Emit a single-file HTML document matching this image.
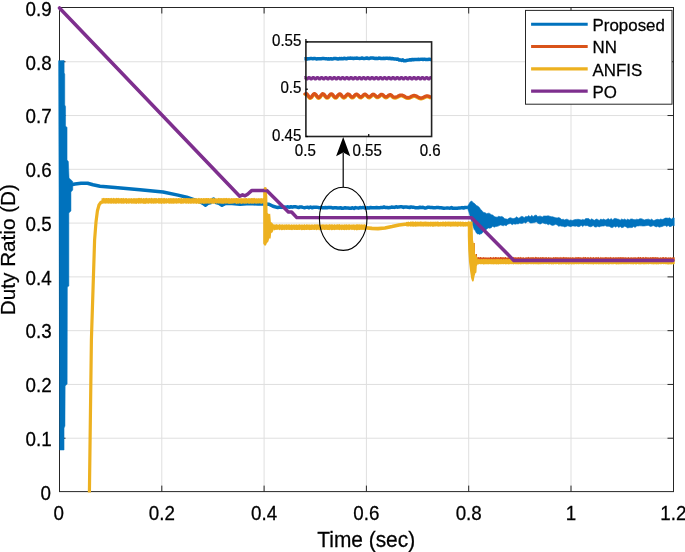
<!DOCTYPE html>
<html><head><meta charset="utf-8"><title>Duty Ratio</title>
<style>
html,body{margin:0;padding:0;background:#fff;}
body{width:685px;height:552px;overflow:hidden;font-family:"Liberation Sans",sans-serif;}
svg{display:block;will-change:transform;opacity:0.999;}
svg text{font-family:"Liberation Sans",sans-serif;fill:#000;}
</style></head><body>
<svg width="685" height="552" viewBox="0 0 685 552">
<rect width="685" height="552" fill="#fff"/>
<line x1="161.80" y1="7.5" x2="161.80" y2="491.6" stroke="#DFDFDF" stroke-width="1"/>
<line x1="264.10" y1="7.5" x2="264.10" y2="491.6" stroke="#DFDFDF" stroke-width="1"/>
<line x1="366.40" y1="7.5" x2="366.40" y2="491.6" stroke="#DFDFDF" stroke-width="1"/>
<line x1="468.70" y1="7.5" x2="468.70" y2="491.6" stroke="#DFDFDF" stroke-width="1"/>
<line x1="571.00" y1="7.5" x2="571.00" y2="491.6" stroke="#DFDFDF" stroke-width="1"/>
<line x1="59.5" y1="438.22" x2="673.5" y2="438.22" stroke="#DFDFDF" stroke-width="1"/>
<line x1="59.5" y1="384.44" x2="673.5" y2="384.44" stroke="#DFDFDF" stroke-width="1"/>
<line x1="59.5" y1="330.66" x2="673.5" y2="330.66" stroke="#DFDFDF" stroke-width="1"/>
<line x1="59.5" y1="276.88" x2="673.5" y2="276.88" stroke="#DFDFDF" stroke-width="1"/>
<line x1="59.5" y1="223.10" x2="673.5" y2="223.10" stroke="#DFDFDF" stroke-width="1"/>
<line x1="59.5" y1="169.32" x2="673.5" y2="169.32" stroke="#DFDFDF" stroke-width="1"/>
<line x1="59.5" y1="115.54" x2="673.5" y2="115.54" stroke="#DFDFDF" stroke-width="1"/>
<line x1="59.5" y1="61.76" x2="673.5" y2="61.76" stroke="#DFDFDF" stroke-width="1"/>
<rect x="59.5" y="7.5" width="614.0" height="484.1" fill="none" stroke="#262626" stroke-width="1"/>
<line x1="161.80" y1="491.6" x2="161.80" y2="485.6" stroke="#262626" stroke-width="1"/>
<line x1="161.80" y1="7.5" x2="161.80" y2="13.5" stroke="#262626" stroke-width="1"/>
<line x1="264.10" y1="491.6" x2="264.10" y2="485.6" stroke="#262626" stroke-width="1"/>
<line x1="264.10" y1="7.5" x2="264.10" y2="13.5" stroke="#262626" stroke-width="1"/>
<line x1="366.40" y1="491.6" x2="366.40" y2="485.6" stroke="#262626" stroke-width="1"/>
<line x1="366.40" y1="7.5" x2="366.40" y2="13.5" stroke="#262626" stroke-width="1"/>
<line x1="468.70" y1="491.6" x2="468.70" y2="485.6" stroke="#262626" stroke-width="1"/>
<line x1="468.70" y1="7.5" x2="468.70" y2="13.5" stroke="#262626" stroke-width="1"/>
<line x1="571.00" y1="491.6" x2="571.00" y2="485.6" stroke="#262626" stroke-width="1"/>
<line x1="571.00" y1="7.5" x2="571.00" y2="13.5" stroke="#262626" stroke-width="1"/>
<line x1="59.5" y1="438.22" x2="65.5" y2="438.22" stroke="#262626" stroke-width="1"/>
<line x1="673.5" y1="438.22" x2="667.5" y2="438.22" stroke="#262626" stroke-width="1"/>
<line x1="59.5" y1="384.44" x2="65.5" y2="384.44" stroke="#262626" stroke-width="1"/>
<line x1="673.5" y1="384.44" x2="667.5" y2="384.44" stroke="#262626" stroke-width="1"/>
<line x1="59.5" y1="330.66" x2="65.5" y2="330.66" stroke="#262626" stroke-width="1"/>
<line x1="673.5" y1="330.66" x2="667.5" y2="330.66" stroke="#262626" stroke-width="1"/>
<line x1="59.5" y1="276.88" x2="65.5" y2="276.88" stroke="#262626" stroke-width="1"/>
<line x1="673.5" y1="276.88" x2="667.5" y2="276.88" stroke="#262626" stroke-width="1"/>
<line x1="59.5" y1="223.10" x2="65.5" y2="223.10" stroke="#262626" stroke-width="1"/>
<line x1="673.5" y1="223.10" x2="667.5" y2="223.10" stroke="#262626" stroke-width="1"/>
<line x1="59.5" y1="169.32" x2="65.5" y2="169.32" stroke="#262626" stroke-width="1"/>
<line x1="673.5" y1="169.32" x2="667.5" y2="169.32" stroke="#262626" stroke-width="1"/>
<line x1="59.5" y1="115.54" x2="65.5" y2="115.54" stroke="#262626" stroke-width="1"/>
<line x1="673.5" y1="115.54" x2="667.5" y2="115.54" stroke="#262626" stroke-width="1"/>
<line x1="59.5" y1="61.76" x2="65.5" y2="61.76" stroke="#262626" stroke-width="1"/>
<line x1="673.5" y1="61.76" x2="667.5" y2="61.76" stroke="#262626" stroke-width="1"/>
<path d="M58.60,60.70 L64.15,60.50 L64.15,73.00 L64.75,74.00 L64.75,105.00 L65.55,106.50 L65.55,126.00 L67.05,127.50 L67.05,160.00 L68.35,161.50 L69.05,178.00 L72.75,181.50 L72.75,190.00 L70.95,192.00 L70.95,211.00 L68.85,213.00 L68.85,286.00 L67.35,287.00 L67.15,384.00 L65.15,386.00 L64.95,426.00 L64.05,428.00 L64.05,450.00 L59.80,450.00 Z" fill="#0072BD" stroke="#0072BD" stroke-width="0.5" stroke-linejoin="round"/>
<path d="M71.00,184.80 L75.00,184.00 L81.00,183.30 L87.60,183.20 L93.00,184.80 L100.00,186.30 L115.00,187.60 L140.00,189.80 L163.00,192.00 L178.00,195.10 L186.70,197.20 L194.60,200.00 L200.00,201.80 L203.00,203.40 L205.60,205.20 L208.00,203.20 L211.00,202.60 L213.50,199.00 L216.00,202.60 L219.00,203.20 L222.00,205.20 L225.00,203.60 L232.00,203.60 L240.00,204.20 L250.00,203.60 L258.00,204.00 L264.00,204.00 L269.00,204.20 L273.00,206.20 L277.80,207.60 L279.00,207.18 L280.50,207.00 L282.00,207.43 L283.50,206.89 L285.00,207.28 L286.50,207.11 L288.00,206.82 L289.50,207.22 L291.00,206.79 L292.50,207.14 L294.00,206.81 L295.50,206.83 L297.00,207.14 L298.50,207.51 L300.00,206.89 L301.50,206.99 L303.00,207.37 L304.50,207.68 L306.00,207.37 L307.50,207.23 L309.00,207.78 L310.50,206.97 L312.00,207.73 L313.50,207.25 L315.00,207.15 L316.50,207.16 L318.00,207.37 L319.50,207.86 L321.00,207.33 L322.50,207.72 L324.00,207.81 L325.50,207.60 L327.00,207.79 L328.50,207.39 L330.00,207.42 L331.50,207.58 L333.00,208.03 L334.50,207.83 L336.00,207.75 L337.50,208.01 L339.00,207.91 L340.50,207.79 L342.00,208.25 L343.50,208.17 L345.00,207.77 L346.50,208.07 L348.00,208.02 L349.50,208.33 L351.00,208.20 L352.50,207.79 L354.00,208.40 L355.50,207.61 L357.00,207.86 L358.50,208.15 L360.00,207.58 L361.50,207.86 L363.00,207.42 L364.50,207.96 L366.00,208.02 L367.50,207.81 L369.00,208.05 L370.50,207.51 L372.00,207.82 L373.50,207.69 L375.00,207.64 L376.50,207.50 L378.00,207.81 L379.50,207.87 L381.00,207.41 L382.50,207.55 L384.00,206.98 L385.50,207.53 L387.00,207.45 L388.50,207.74 L390.00,207.56 L391.50,207.06 L393.00,207.14 L394.50,207.38 L396.00,206.78 L397.50,207.17 L399.00,206.90 L400.50,206.86 L402.00,206.80 L403.50,207.45 L405.00,206.88 L406.50,207.00 L408.00,207.14 L409.50,207.59 L411.00,206.90 L412.50,207.25 L414.00,207.36 L415.50,207.69 L417.00,207.66 L418.50,207.73 L420.00,207.23 L421.50,207.39 L423.00,207.37 L424.50,207.88 L426.00,207.98 L427.50,207.29 L429.00,207.35 L430.50,207.43 L432.00,207.47 L433.50,207.73 L435.00,207.86 L436.50,207.59 L438.00,207.39 L439.50,207.79 L441.00,207.77 L442.50,207.97 L444.00,208.34 L445.50,208.12 L447.00,207.98 L448.50,208.09 L450.00,208.15 L451.50,207.59 L453.00,208.36 L454.50,208.25 L456.00,208.33 L457.50,208.26 L459.00,207.89 L460.50,207.88 L462.00,207.60 L463.50,208.06 L465.00,207.52 L466.50,207.51" fill="none" stroke="#0072BD" stroke-width="3.5" stroke-linejoin="round" stroke-linecap="round"/>
<path d="M467.60,206.11 L468.70,204.47 L469.80,202.52 L470.90,201.30 L472.00,201.16 L473.10,202.72 L474.20,203.30 L475.30,204.23 L476.40,205.53 L477.50,205.97 L478.60,206.69 L479.70,208.04 L480.80,209.84 L481.90,210.46 L483.00,212.18 L484.10,212.48 L485.20,212.77 L486.70,213.82 L488.20,213.15 L489.70,213.45 L491.20,214.67 L492.70,214.91 L494.20,216.46 L495.70,216.99 L497.20,217.18 L498.70,216.32 L500.20,216.82 L501.70,216.45 L503.20,217.15 L504.70,218.73 L506.20,218.95 L507.70,219.24 L509.20,218.04 L510.70,217.79 L512.20,218.40 L513.70,218.61 L515.20,218.05 L516.70,216.76 L518.20,218.14 L519.70,217.68 L521.20,216.44 L522.70,216.58 L524.20,217.64 L525.70,216.40 L527.20,216.87 L528.70,215.57 L530.20,216.90 L531.70,215.30 L533.20,216.73 L534.70,215.38 L536.20,215.01 L537.70,216.80 L539.20,216.15 L540.70,216.17 L542.20,217.11 L543.70,216.03 L545.20,216.01 L546.70,216.04 L548.20,215.80 L549.70,216.22 L551.20,216.68 L552.70,216.76 L554.20,217.30 L555.70,217.73 L557.20,217.95 L558.70,217.50 L560.20,218.19 L561.70,219.60 L563.20,219.21 L564.70,220.01 L566.20,219.21 L567.70,219.43 L569.20,220.38 L570.70,219.93 L572.20,220.54 L573.70,219.92 L575.20,219.62 L576.70,219.38 L578.20,219.31 L579.70,219.60 L581.20,220.07 L582.70,219.38 L584.20,219.95 L585.70,218.62 L587.20,218.57 L588.70,218.61 L590.20,219.99 L591.70,218.84 L593.20,219.83 L594.70,220.29 L596.20,219.07 L597.70,219.45 L599.20,220.61 L600.70,219.04 L602.20,219.67 L603.70,219.02 L605.20,219.98 L606.70,219.62 L608.20,218.57 L609.70,219.68 L611.20,218.57 L612.70,219.91 L614.20,218.57 L615.70,218.46 L617.20,218.97 L618.70,219.32 L620.20,220.15 L621.70,218.94 L623.20,219.81 L624.70,218.97 L626.20,220.17 L627.70,219.07 L629.20,220.12 L630.70,219.02 L632.20,218.94 L633.70,219.62 L635.20,219.76 L636.70,219.17 L638.20,219.61 L639.70,218.77 L641.20,218.66 L642.70,219.18 L644.20,220.05 L645.70,219.58 L647.20,219.31 L648.70,219.14 L650.20,220.08 L651.70,219.07 L653.20,220.50 L654.70,220.30 L656.20,219.60 L657.70,219.30 L659.20,219.75 L660.70,218.99 L662.20,219.57 L663.70,218.89 L665.20,218.11 L666.70,218.04 L668.20,218.29 L669.70,217.86 L671.20,219.26 L672.70,218.04 L674.20,217.96 L674.20,225.84 L672.70,225.46 L671.20,226.31 L669.70,226.67 L668.20,225.41 L666.70,226.54 L665.20,225.41 L663.70,225.85 L662.20,226.43 L660.70,226.83 L659.20,227.14 L657.70,226.26 L656.20,226.91 L654.70,226.17 L653.20,225.56 L651.70,226.27 L650.20,226.43 L648.70,225.42 L647.20,225.44 L645.70,225.75 L644.20,225.97 L642.70,226.01 L641.20,225.83 L639.70,225.77 L638.20,226.01 L636.70,225.89 L635.20,227.49 L633.70,226.46 L632.20,227.54 L630.70,227.62 L629.20,227.60 L627.70,227.92 L626.20,226.90 L624.70,226.16 L623.20,227.33 L621.70,227.70 L620.20,226.40 L618.70,227.60 L617.20,226.06 L615.70,227.25 L614.20,226.23 L612.70,227.53 L611.20,227.52 L609.70,226.58 L608.20,226.20 L606.70,226.37 L605.20,225.53 L603.70,226.05 L602.20,226.05 L600.70,226.19 L599.20,226.91 L597.70,226.21 L596.20,227.05 L594.70,227.03 L593.20,225.42 L591.70,226.46 L590.20,226.76 L588.70,226.28 L587.20,225.42 L585.70,225.76 L584.20,225.14 L582.70,226.62 L581.20,225.28 L579.70,226.43 L578.20,226.63 L576.70,225.93 L575.20,226.30 L573.70,226.02 L572.20,225.97 L570.70,226.64 L569.20,226.23 L567.70,225.86 L566.20,226.46 L564.70,226.90 L563.20,226.24 L561.70,226.17 L560.20,225.86 L558.70,226.33 L557.20,224.92 L555.70,224.31 L554.20,224.98 L552.70,225.41 L551.20,225.09 L549.70,224.08 L548.20,224.78 L546.70,223.70 L545.20,223.86 L543.70,223.15 L542.20,222.84 L540.70,223.90 L539.20,223.83 L537.70,223.09 L536.20,221.69 L534.70,222.57 L533.20,222.73 L531.70,223.00 L530.20,222.91 L528.70,221.61 L527.20,221.59 L525.70,223.17 L524.20,222.33 L522.70,223.30 L521.20,223.49 L519.70,223.10 L518.20,223.88 L516.70,223.82 L515.20,224.24 L513.70,223.78 L512.20,224.73 L510.70,223.56 L509.20,223.76 L507.70,224.30 L506.20,225.79 L504.70,225.06 L503.20,225.83 L501.70,225.29 L500.20,224.88 L498.70,225.87 L497.20,226.36 L495.70,226.55 L494.20,227.18 L492.70,226.22 L491.20,227.77 L489.70,228.21 L488.20,227.89 L486.70,228.95 L485.20,230.71 L484.10,230.43 L483.00,231.65 L481.90,233.52 L480.80,233.79 L479.70,234.43 L478.60,233.88 L477.50,233.88 L476.40,233.01 L475.30,230.76 L474.20,229.60 L473.10,226.14 L472.00,223.18 L470.90,218.96 L469.80,215.01 L468.70,211.57 L467.60,208.56 Z" fill="#0072BD" stroke="#0072BD" stroke-width="0.6" stroke-linejoin="round"/>
<path d="M474.2,243 L474.6,262 M476.4,254 L476.6,262" fill="none" stroke="#D95319" stroke-width="1.2"/>
<path d="M89.40,492.50 L91.40,340.00 L94.60,240.00 L96.00,222.00 L97.40,211.00 L99.00,205.00 L101.00,202.20 L103.30,201.40" fill="none" stroke="#EDB120" stroke-width="3.2" stroke-linejoin="round"/>
<path d="M474.00,257.39 L474.62,257.77 L475.25,257.30 L475.88,257.38 L476.50,257.33 L477.12,257.42 L477.75,257.28 L478.38,257.10 L479.00,257.28 L479.62,257.43 L480.25,256.99 L480.88,256.94 L481.50,257.44 L482.12,257.58 L482.75,257.50 L483.38,257.00 L484.00,257.21 L484.62,257.58 L485.25,257.48 L485.88,257.18 L486.50,257.61 L487.12,257.50 L487.75,257.48 L488.38,257.30 L489.00,257.65 L489.62,257.61 L490.25,256.99 L490.88,257.02 L491.50,257.62 L492.12,257.57 L492.75,257.38 L493.38,256.80 L494.00,257.57 L494.62,257.51 L495.25,257.01 L495.88,256.95 L496.50,257.28 L497.12,257.31 L497.75,257.56 L498.38,257.03 L499.00,257.53 L499.62,257.56 L500.25,257.02 L500.88,256.95 L501.50,257.30 L502.12,257.20 L502.75,257.14 L503.38,257.22 L504.00,257.29 L504.62,257.47 L505.25,257.05 L505.88,256.92 L506.50,257.68 L507.12,257.47 L507.75,257.56 L508.38,256.96 L509.00,257.69 L509.62,257.54 L510.25,257.29 L510.88,256.88 L511.50,257.42 L512.12,257.61 L512.75,257.51 L513.38,256.82 L514.00,257.41 L514.62,257.37 L515.25,257.18 L515.88,257.31 L516.50,257.57 L517.12,257.26 L517.75,257.40 L518.38,256.98 L519.00,257.35 L519.62,257.54 L520.25,257.23 L520.88,256.83 L521.50,257.62 L522.12,257.75 L522.75,257.13 L523.38,256.92 L524.00,257.69 L524.62,257.68 L525.25,257.52 L525.88,257.13 L526.50,257.15 L527.12,257.46 L527.75,257.36 L528.38,256.83 L529.00,257.19 L529.62,257.40 L530.25,257.42 L530.88,256.96 L531.50,257.30 L532.12,257.43 L532.75,257.07 L533.38,257.34 L534.00,257.25 L534.62,257.79 L535.25,257.06 L535.88,256.86 L536.50,257.17 L537.12,257.34 L537.75,257.51 L538.38,257.05 L539.00,257.43 L539.62,257.39 L540.25,257.14 L540.88,256.88 L541.50,257.50 L542.12,257.32 L542.75,257.12 L543.38,257.07 L544.00,257.63 L544.62,257.20 L545.25,257.40 L545.88,257.09 L546.50,257.12 L547.12,257.75 L547.75,257.49 L548.38,256.95 L549.00,257.21 L549.62,257.60 L550.25,257.41 L550.88,257.26 L551.50,257.45 L552.12,257.66 L552.75,257.53 L553.38,256.98 L554.00,257.27 L554.62,257.61 L555.25,257.02 L555.88,257.15 L556.50,257.25 L557.12,257.20 L557.75,257.25 L558.38,257.19 L559.00,257.40 L559.62,257.34 L560.25,257.40 L560.88,256.81 L561.50,257.52 L562.12,257.34 L562.75,257.53 L563.38,256.82 L564.00,257.37 L564.62,257.31 L565.25,257.42 L565.88,256.92 L566.50,257.30 L567.12,257.33 L567.75,257.43 L568.38,257.37 L569.00,257.23 L569.62,257.44 L570.25,257.54 L570.88,257.04 L571.50,257.70 L572.12,257.22 L572.75,257.21 L573.38,257.33 L574.00,257.72 L574.62,257.39 L575.25,257.54 L575.88,256.82 L576.50,257.34 L577.12,257.39 L577.75,256.98 L578.38,257.01 L579.00,257.19 L579.62,257.31 L580.25,257.47 L580.88,257.06 L581.50,257.40 L582.12,257.74 L582.75,257.19 L583.38,256.82 L584.00,257.60 L584.62,257.21 L585.25,257.01 L585.88,256.96 L586.50,257.66 L587.12,257.35 L587.75,257.34 L588.38,257.23 L589.00,257.28 L589.62,257.64 L590.25,257.36 L590.88,256.82 L591.50,257.40 L592.12,257.76 L592.75,257.13 L593.38,257.10 L594.00,257.23 L594.62,257.63 L595.25,257.44 L595.88,257.00 L596.50,257.33 L597.12,257.24 L597.75,257.43 L598.38,256.84 L599.00,257.45 L599.62,257.78 L600.25,257.57 L600.88,256.85 L601.50,257.42 L602.12,257.46 L602.75,257.22 L603.38,257.21 L604.00,257.63 L604.62,257.26 L605.25,257.15 L605.88,257.03 L606.50,257.24 L607.12,257.34 L607.75,257.51 L608.38,257.00 L609.00,257.71 L609.62,257.33 L610.25,257.37 L610.88,256.86 L611.50,257.61 L612.12,257.74 L612.75,257.15 L613.38,256.91 L614.00,257.47 L614.62,257.41 L615.25,257.24 L615.88,257.27 L616.50,257.18 L617.12,257.56 L617.75,257.20 L618.38,256.92 L619.00,257.48 L619.62,257.31 L620.25,257.17 L620.88,256.91 L621.50,257.24 L622.12,257.52 L622.75,257.04 L623.38,257.13 L624.00,257.17 L624.62,257.61 L625.25,257.14 L625.88,257.37 L626.50,257.46 L627.12,257.44 L627.75,257.57 L628.38,256.92 L629.00,257.24 L629.62,257.73 L630.25,257.47 L630.88,257.33 L631.50,257.22 L632.12,257.52 L632.75,257.52 L633.38,257.17 L634.00,257.42 L634.62,257.36 L635.25,257.53 L635.88,257.10 L636.50,257.70 L637.12,257.27 L637.75,257.56 L638.38,256.83 L639.00,257.35 L639.62,257.56 L640.25,257.07 L640.88,256.93 L641.50,257.63 L642.12,257.30 L642.75,257.21 L643.38,257.03 L644.00,257.27 L644.62,257.73 L645.25,257.31 L645.88,256.82 L646.50,257.19 L647.12,257.52 L647.75,257.16 L648.38,257.15 L649.00,257.51 L649.62,257.45 L650.25,257.35 L650.88,256.94 L651.50,257.59 L652.12,257.30 L652.75,257.04 L653.38,257.06 L654.00,257.38 L654.62,257.21 L655.25,257.02 L655.88,257.27 L656.50,257.15 L657.12,257.42 L657.75,257.06 L658.38,257.40 L659.00,257.61 L659.62,257.78 L660.25,257.55 L660.88,256.90 L661.50,257.68 L662.12,257.40 L662.75,257.07 L663.38,256.97 L664.00,257.20 L664.62,257.74 L665.25,257.13 L665.88,256.99 L666.50,257.23 L667.12,257.75 L667.75,257.51 L668.38,257.27 L669.00,257.44 L669.62,257.41 L670.25,257.31 L670.88,257.33 L671.50,257.71 L672.12,257.43 L672.75,257.13 L673.38,257.15 L674.00,257.58 L674.62,257.30 L674.70,257.00 L674.70,260.80 L674.62,260.46 L674.00,260.35 L673.38,260.61 L672.75,260.82 L672.12,260.49 L671.50,260.46 L670.88,260.46 L670.25,260.57 L669.62,260.53 L669.00,260.46 L668.38,260.47 L667.75,260.33 L667.12,260.42 L666.50,260.18 L665.88,260.42 L665.25,260.53 L664.62,260.14 L664.00,260.38 L663.38,260.89 L662.75,260.76 L662.12,260.46 L661.50,260.12 L660.88,260.87 L660.25,260.77 L659.62,260.31 L659.00,260.20 L658.38,260.84 L657.75,260.74 L657.12,260.58 L656.50,260.38 L655.88,260.71 L655.25,260.67 L654.62,260.39 L654.00,260.39 L653.38,260.45 L652.75,260.30 L652.12,260.29 L651.50,260.36 L650.88,260.86 L650.25,260.52 L649.62,260.02 L649.00,260.35 L648.38,260.65 L647.75,260.48 L647.12,260.39 L646.50,260.44 L645.88,260.90 L645.25,260.68 L644.62,260.04 L644.00,260.52 L643.38,260.47 L642.75,260.54 L642.12,260.14 L641.50,260.58 L640.88,260.64 L640.25,260.70 L639.62,260.51 L639.00,260.62 L638.38,260.95 L637.75,260.52 L637.12,260.58 L636.50,260.20 L635.88,260.88 L635.25,260.29 L634.62,260.32 L634.00,260.17 L633.38,260.62 L632.75,260.28 L632.12,260.39 L631.50,260.09 L630.88,260.68 L630.25,260.47 L629.62,260.26 L629.00,260.09 L628.38,260.84 L627.75,260.44 L627.12,260.53 L626.50,260.30 L625.88,260.59 L625.25,260.41 L624.62,260.26 L624.00,260.18 L623.38,260.78 L622.75,260.46 L622.12,260.05 L621.50,260.56 L620.88,260.59 L620.25,260.63 L619.62,260.02 L619.00,260.47 L618.38,260.55 L617.75,260.31 L617.12,260.14 L616.50,260.44 L615.88,260.97 L615.25,260.38 L614.62,260.53 L614.00,260.64 L613.38,260.98 L612.75,260.30 L612.12,260.03 L611.50,260.59 L610.88,260.68 L610.25,260.82 L609.62,260.50 L609.00,260.39 L608.38,260.64 L607.75,260.57 L607.12,260.10 L606.50,260.23 L605.88,260.84 L605.25,260.57 L604.62,260.51 L604.00,260.48 L603.38,260.85 L602.75,260.60 L602.12,260.15 L601.50,260.51 L600.88,260.46 L600.25,260.38 L599.62,260.54 L599.00,260.28 L598.38,260.42 L597.75,260.37 L597.12,260.13 L596.50,260.55 L595.88,260.59 L595.25,260.59 L594.62,260.50 L594.00,260.56 L593.38,260.96 L592.75,260.48 L592.12,260.24 L591.50,260.66 L590.88,260.54 L590.25,260.79 L589.62,260.56 L589.00,260.08 L588.38,260.59 L587.75,260.38 L587.12,260.58 L586.50,260.29 L585.88,260.85 L585.25,260.78 L584.62,260.03 L584.00,260.54 L583.38,260.65 L582.75,260.76 L582.12,260.13 L581.50,260.31 L580.88,260.43 L580.25,260.72 L579.62,260.22 L579.00,260.66 L578.38,260.97 L577.75,260.39 L577.12,260.11 L576.50,260.31 L575.88,260.80 L575.25,260.67 L574.62,260.12 L574.00,260.64 L573.38,260.84 L572.75,260.76 L572.12,260.05 L571.50,260.17 L570.88,260.53 L570.25,260.31 L569.62,260.41 L569.00,260.22 L568.38,260.70 L567.75,260.40 L567.12,260.14 L566.50,260.57 L565.88,260.98 L565.25,260.53 L564.62,260.49 L564.00,260.49 L563.38,260.60 L562.75,260.36 L562.12,260.41 L561.50,260.33 L560.88,260.70 L560.25,260.41 L559.62,260.59 L559.00,260.22 L558.38,260.93 L557.75,260.80 L557.12,260.19 L556.50,260.44 L555.88,260.63 L555.25,260.54 L554.62,260.08 L554.00,260.46 L553.38,260.48 L552.75,260.61 L552.12,260.15 L551.50,260.11 L550.88,260.67 L550.25,260.61 L549.62,260.58 L549.00,260.40 L548.38,260.46 L547.75,260.81 L547.12,260.51 L546.50,260.32 L545.88,260.75 L545.25,260.76 L544.62,260.03 L544.00,260.61 L543.38,260.97 L542.75,260.47 L542.12,260.17 L541.50,260.60 L540.88,260.70 L540.25,260.81 L539.62,260.05 L539.00,260.31 L538.38,260.65 L537.75,260.68 L537.12,260.35 L536.50,260.23 L535.88,260.60 L535.25,260.34 L534.62,260.28 L534.00,260.63 L533.38,260.70 L532.75,260.35 L532.12,260.11 L531.50,260.42 L530.88,260.79 L530.25,260.81 L529.62,260.19 L529.00,260.37 L528.38,260.95 L527.75,260.40 L527.12,260.46 L526.50,260.52 L525.88,260.83 L525.25,260.79 L524.62,260.39 L524.00,260.61 L523.38,260.62 L522.75,260.53 L522.12,260.16 L521.50,260.25 L520.88,260.46 L520.25,260.39 L519.62,260.23 L519.00,260.68 L518.38,260.62 L517.75,260.77 L517.12,260.57 L516.50,260.59 L515.88,260.40 L515.25,260.42 L514.62,260.09 L514.00,260.35 L513.38,260.40 L512.75,260.52 L512.12,260.15 L511.50,260.61 L510.88,260.89 L510.25,260.80 L509.62,260.10 L509.00,260.21 L508.38,260.52 L507.75,260.50 L507.12,260.50 L506.50,260.09 L505.88,260.99 L505.25,260.76 L504.62,260.29 L504.00,260.39 L503.38,260.80 L502.75,260.63 L502.12,260.05 L501.50,260.42 L500.88,260.84 L500.25,260.31 L499.62,260.40 L499.00,260.54 L498.38,260.69 L497.75,260.52 L497.12,260.45 L496.50,260.52 L495.88,260.44 L495.25,260.67 L494.62,260.41 L494.00,260.38 L493.38,260.88 L492.75,260.52 L492.12,260.39 L491.50,260.42 L490.88,260.46 L490.25,260.31 L489.62,260.15 L489.00,260.49 L488.38,260.75 L487.75,260.71 L487.12,260.31 L486.50,260.17 L485.88,260.84 L485.25,260.76 L484.62,260.04 L484.00,260.52 L483.38,260.99 L482.75,260.46 L482.12,260.44 L481.50,260.53 L480.88,260.75 L480.25,260.41 L479.62,260.04 L479.00,260.14 L478.38,260.40 L477.75,260.35 L477.12,260.30 L476.50,260.08 L475.88,260.58 L475.25,260.37 L474.62,260.59 L474.00,260.24 Z" fill="#D95319"/>
<path d="M101.50,198.19 L102.12,198.37 L102.75,198.37 L103.38,198.01 L104.00,197.80 L104.62,198.36 L105.25,198.34 L105.88,197.92 L106.50,198.11 L107.12,198.05 L107.75,198.13 L108.38,197.97 L109.00,198.08 L109.62,198.36 L110.25,198.15 L110.88,197.98 L111.50,197.83 L112.12,198.48 L112.75,198.28 L113.38,197.86 L114.00,198.07 L114.62,198.37 L115.25,198.55 L115.88,197.98 L116.50,197.81 L117.12,198.25 L117.75,198.11 L118.38,197.86 L119.00,198.25 L119.62,198.15 L120.25,198.33 L120.88,198.27 L121.50,197.94 L122.12,198.07 L122.75,198.47 L123.38,197.86 L124.00,198.16 L124.62,198.42 L125.25,198.19 L125.88,197.97 L126.50,197.95 L127.12,198.40 L127.75,198.44 L128.38,198.14 L129.00,198.18 L129.62,198.18 L130.25,198.56 L130.88,198.30 L131.50,197.91 L132.12,198.42 L132.75,198.45 L133.38,198.30 L134.00,197.90 L134.62,198.36 L135.25,198.41 L135.88,198.09 L136.50,198.13 L137.12,198.27 L137.75,198.36 L138.38,197.96 L139.00,197.82 L139.62,198.12 L140.25,198.13 L140.88,198.03 L141.50,197.80 L142.12,198.40 L142.75,198.43 L143.38,197.89 L144.00,197.97 L144.62,198.46 L145.25,198.11 L145.88,198.32 L146.50,197.84 L147.12,198.10 L147.75,198.50 L148.38,198.18 L149.00,198.10 L149.62,198.10 L150.25,198.46 L150.88,198.02 L151.50,197.79 L152.12,198.19 L152.75,198.26 L153.38,198.34 L154.00,198.21 L154.62,198.06 L155.25,198.30 L155.88,198.03 L156.50,198.05 L157.12,198.48 L157.75,198.49 L158.38,197.86 L159.00,198.17 L159.62,198.05 L160.25,198.33 L160.88,197.95 L161.50,197.96 L162.12,198.18 L162.75,198.22 L163.38,198.21 L164.00,197.84 L164.62,198.09 L165.25,198.43 L165.88,198.17 L166.50,197.99 L167.12,198.49 L167.75,198.52 L168.38,197.96 L169.00,198.23 L169.62,198.24 L170.25,198.20 L170.88,198.12 L171.50,198.16 L172.12,198.22 L172.75,198.16 L173.38,198.19 L174.00,197.87 L174.62,198.44 L175.25,198.14 L175.88,198.30 L176.50,197.88 L177.12,198.40 L177.75,198.16 L178.38,197.98 L179.00,198.05 L179.62,198.21 L180.25,198.57 L180.88,197.91 L181.50,197.84 L182.12,198.54 L182.75,198.45 L183.38,197.96 L184.00,197.84 L184.62,198.24 L185.25,198.28 L185.88,198.21 L186.50,198.10 L187.12,198.12 L187.75,198.28 L188.38,198.31 L189.00,198.07 L189.62,198.26 L190.25,198.44 L190.88,198.25 L191.50,198.21 L192.12,198.37 L192.75,198.24 L193.38,197.91 L194.00,198.18 L194.62,198.36 L195.25,198.29 L195.88,198.17 L196.50,198.12 L197.12,198.14 L197.75,198.47 L198.38,198.10 L199.00,197.80 L199.62,198.13 L200.25,198.55 L200.88,197.91 L201.50,198.05 L202.12,198.30 L202.75,198.49 L203.38,198.06 L204.00,197.89 L204.62,198.24 L205.25,198.14 L205.88,198.04 L206.50,197.92 L207.12,198.06 L207.75,198.29 L208.38,198.03 L209.00,197.90 L209.62,198.52 L210.25,198.19 L210.88,198.05 L211.50,197.85 L212.12,198.45 L212.75,198.31 L213.38,197.97 L214.00,197.96 L214.62,198.46 L215.25,198.31 L215.88,198.13 L216.50,198.20 L217.12,198.47 L217.75,198.27 L218.38,198.07 L219.00,197.79 L219.62,198.19 L220.25,198.23 L220.88,198.07 L221.50,198.11 L222.12,198.51 L222.75,198.11 L223.38,198.31 L224.00,197.85 L224.62,198.37 L225.25,198.09 L225.88,198.19 L226.50,197.84 L227.12,198.17 L227.75,198.25 L228.38,198.31 L229.00,197.87 L229.62,198.35 L230.25,198.41 L230.88,198.25 L231.50,197.88 L232.12,198.31 L232.75,198.30 L233.38,198.14 L234.00,197.90 L234.62,198.30 L235.25,198.31 L235.88,198.10 L236.50,198.05 L237.12,198.05 L237.75,198.31 L238.38,198.19 L239.00,197.97 L239.62,198.53 L240.25,198.40 L240.88,197.87 L241.50,198.13 L242.12,198.21 L242.75,198.33 L243.38,198.31 L244.00,198.14 L244.62,198.22 L245.25,198.26 L245.88,198.12 L246.50,197.89 L247.12,198.26 L247.75,198.49 L248.38,198.27 L249.00,198.04 L249.62,198.30 L250.25,198.41 L250.88,198.02 L251.50,197.93 L252.12,198.37 L252.75,198.10 L253.38,198.30 L254.00,197.81 L254.62,198.05 L255.25,198.54 L255.88,198.19 L256.50,198.24 L257.12,198.36 L257.75,198.43 L258.38,198.20 L259.00,198.12 L259.62,198.43 L260.25,198.17 L260.88,198.25 L261.50,198.11 L262.12,198.46 L262.75,198.36 L263.38,198.01 L264.00,197.94 L264.62,198.37 L265.25,198.11 L265.50,197.90 L265.50,203.90 L265.25,203.50 L264.62,203.72 L264.00,203.73 L263.38,203.65 L262.75,203.35 L262.12,203.64 L261.50,203.70 L260.88,203.90 L260.25,203.24 L259.62,203.30 L259.00,203.74 L258.38,203.55 L257.75,203.52 L257.12,203.56 L256.50,203.82 L255.88,203.84 L255.25,203.52 L254.62,203.35 L254.00,203.67 L253.38,203.71 L252.75,203.58 L252.12,203.64 L251.50,203.81 L250.88,203.60 L250.25,203.62 L249.62,203.74 L249.00,203.65 L248.38,203.64 L247.75,203.37 L247.12,203.53 L246.50,203.73 L245.88,203.83 L245.25,203.46 L244.62,203.68 L244.00,203.83 L243.38,203.46 L242.75,203.46 L242.12,203.74 L241.50,203.98 L240.88,203.75 L240.25,203.54 L239.62,203.29 L239.00,203.73 L238.38,203.86 L237.75,203.50 L237.12,203.67 L236.50,203.95 L235.88,203.69 L235.25,203.29 L234.62,203.28 L234.00,203.59 L233.38,203.57 L232.75,203.66 L232.12,203.62 L231.50,203.86 L230.88,203.86 L230.25,203.67 L229.62,203.64 L229.00,203.96 L228.38,203.84 L227.75,203.30 L227.12,203.64 L226.50,203.59 L225.88,203.57 L225.25,203.70 L224.62,203.26 L224.00,203.93 L223.38,203.83 L222.75,203.63 L222.12,203.68 L221.50,203.70 L220.88,203.76 L220.25,203.46 L219.62,203.37 L219.00,203.88 L218.38,203.53 L217.75,203.35 L217.12,203.39 L216.50,203.69 L215.88,203.50 L215.25,203.37 L214.62,203.66 L214.00,203.84 L213.38,203.92 L212.75,203.50 L212.12,203.57 L211.50,203.90 L210.88,203.55 L210.25,203.62 L209.62,203.51 L209.00,203.89 L208.38,203.57 L207.75,203.57 L207.12,203.46 L206.50,203.72 L205.88,203.47 L205.25,203.71 L204.62,203.63 L204.00,203.86 L203.38,203.92 L202.75,203.48 L202.12,203.57 L201.50,203.87 L200.88,203.73 L200.25,203.48 L199.62,203.64 L199.00,203.79 L198.38,203.93 L197.75,203.41 L197.12,203.58 L196.50,203.98 L195.88,203.65 L195.25,203.45 L194.62,203.38 L194.00,203.87 L193.38,203.65 L192.75,203.53 L192.12,203.48 L191.50,203.86 L190.88,203.79 L190.25,203.66 L189.62,203.37 L189.00,203.89 L188.38,203.66 L187.75,203.59 L187.12,203.55 L186.50,203.75 L185.88,203.69 L185.25,203.62 L184.62,203.27 L184.00,203.62 L183.38,203.76 L182.75,203.44 L182.12,203.65 L181.50,203.71 L180.88,203.92 L180.25,203.58 L179.62,203.35 L179.00,203.60 L178.38,203.60 L177.75,203.30 L177.12,203.67 L176.50,203.67 L175.88,203.56 L175.25,203.45 L174.62,203.54 L174.00,203.74 L173.38,203.81 L172.75,203.64 L172.12,203.41 L171.50,203.84 L170.88,203.82 L170.25,203.45 L169.62,203.69 L169.00,203.77 L168.38,203.57 L167.75,203.23 L167.12,203.29 L166.50,203.71 L165.88,203.62 L165.25,203.61 L164.62,203.65 L164.00,203.83 L163.38,203.69 L162.75,203.33 L162.12,203.72 L161.50,203.93 L160.88,203.69 L160.25,203.62 L159.62,203.50 L159.00,204.00 L158.38,203.54 L157.75,203.31 L157.12,203.30 L156.50,203.62 L155.88,203.79 L155.25,203.61 L154.62,203.46 L154.00,203.82 L153.38,203.69 L152.75,203.38 L152.12,203.61 L151.50,203.64 L150.88,203.65 L150.25,203.32 L149.62,203.30 L149.00,203.66 L148.38,203.85 L147.75,203.63 L147.12,203.27 L146.50,203.62 L145.88,203.91 L145.25,203.65 L144.62,203.70 L144.00,203.92 L143.38,203.74 L142.75,203.59 L142.12,203.57 L141.50,203.54 L140.88,203.51 L140.25,203.69 L139.62,203.26 L139.00,203.97 L138.38,203.75 L137.75,203.37 L137.12,203.61 L136.50,203.94 L135.88,203.86 L135.25,203.71 L134.62,203.60 L134.00,203.97 L133.38,203.61 L132.75,203.38 L132.12,203.72 L131.50,203.63 L130.88,203.45 L130.25,203.33 L129.62,203.57 L129.00,203.78 L128.38,203.66 L127.75,203.35 L127.12,203.67 L126.50,203.89 L125.88,203.46 L125.25,203.27 L124.62,203.48 L124.00,203.75 L123.38,203.86 L122.75,203.58 L122.12,203.70 L121.50,203.67 L120.88,203.53 L120.25,203.54 L119.62,203.56 L119.00,203.59 L118.38,203.72 L117.75,203.61 L117.12,203.37 L116.50,203.78 L115.88,203.89 L115.25,203.59 L114.62,203.47 L114.00,203.69 L113.38,203.76 L112.75,203.35 L112.12,203.64 L111.50,203.83 L110.88,203.52 L110.25,203.69 L109.62,203.49 L109.00,203.62 L108.38,203.73 L107.75,203.40 L107.12,203.43 L106.50,203.53 L105.88,203.55 L105.25,203.67 L104.62,203.47 L104.00,203.59 L103.38,203.44 L102.75,203.55 L102.12,203.74 L101.50,203.64 Z" fill="#EDB120"/>
<path d="M263.20,243.50 L263.20,189.50 L264.40,187.30 L266.30,187.50 L267.30,196.00 L267.60,213.00 L268.80,214.00 L270.20,213.80 L270.90,222.00 L272.20,222.80 L273.40,224.60 L273.40,230.40 L272.40,232.60 L271.20,233.00 L270.60,238.40 L269.20,238.60 L268.40,241.50 L266.80,243.20 L265.90,245.40 L264.30,245.60 Z" fill="#EDB120"/>
<path d="M272.00,224.07 L272.62,224.57 L273.25,224.56 L273.88,224.32 L274.50,224.48 L275.12,224.52 L275.75,224.39 L276.38,224.24 L277.00,224.02 L277.62,224.63 L278.25,224.82 L278.88,224.57 L279.50,224.02 L280.12,224.41 L280.75,224.43 L281.38,224.52 L282.00,224.44 L282.62,224.33 L283.25,224.69 L283.88,224.60 L284.50,224.49 L285.12,224.29 L285.75,224.66 L286.38,224.17 L287.00,224.37 L287.62,224.72 L288.25,224.37 L288.88,224.42 L289.50,224.35 L290.12,224.69 L290.75,224.66 L291.38,224.34 L292.00,224.40 L292.62,224.68 L293.25,224.48 L293.88,224.62 L294.50,224.42 L295.12,224.59 L295.75,224.75 L296.38,224.28 L297.00,224.45 L297.62,224.63 L298.25,224.78 L298.88,224.27 L299.50,224.14 L300.12,224.58 L300.75,224.78 L301.38,224.55 L302.00,224.44 L302.62,224.42 L303.25,224.74 L303.88,224.59 L304.50,224.05 L305.12,224.69 L305.75,224.71 L306.38,224.25 L307.00,224.35 L307.62,224.39 L308.25,224.71 L308.88,224.36 L309.50,224.41 L310.12,224.40 L310.75,224.78 L311.38,224.39 L312.00,224.30 L312.62,224.38 L313.25,224.69 L313.88,224.41 L314.50,224.27 L315.12,224.31 L315.75,224.52 L316.38,224.45 L317.00,224.09 L317.62,224.46 L318.25,224.35 L318.88,224.63 L319.50,224.25 L320.12,224.42 L320.75,224.55 L321.38,224.51 L322.00,224.49 L322.62,224.31 L323.25,224.43 L323.88,224.16 L324.50,224.45 L325.12,224.76 L325.75,224.37 L326.38,224.33 L327.00,224.49 L327.62,224.57 L328.25,224.81 L328.88,224.33 L329.50,224.09 L330.12,224.78 L330.75,224.36 L331.38,224.31 L332.00,224.46 L332.62,224.31 L333.25,224.69 L333.88,224.62 L334.50,224.08 L335.12,224.76 L335.75,224.49 L336.38,224.51 L337.00,224.17 L337.62,224.35 L338.25,224.42 L338.88,224.20 L339.50,224.02 L340.12,224.38 L340.75,224.80 L341.38,224.60 L342.00,224.45 L342.62,224.51 L343.25,224.80 L343.88,224.44 L344.50,224.18 L345.12,224.53 L345.75,224.41 L346.38,224.16 L347.00,224.29 L347.62,224.72 L348.25,224.54 L348.88,224.27 L349.50,224.18 L350.12,224.53 L350.75,224.79 L351.38,224.62 L352.00,224.46 L352.62,224.39 L353.25,224.48 L353.88,224.23 L354.50,224.51 L355.12,224.75 L355.75,224.48 L356.38,224.16 L357.00,224.16 L357.62,224.29 L358.25,224.51 L358.88,224.13 L359.50,224.27 L360.12,224.50 L360.75,224.45 L361.38,224.20 L362.00,224.40 L362.62,224.38 L363.25,224.38 L363.88,224.38 L364.50,224.11 L365.12,224.64 L365.75,224.63 L366.00,224.15 L366.00,230.25 L365.75,229.66 L365.12,230.02 L364.50,230.20 L363.88,229.91 L363.25,229.87 L362.62,229.65 L362.00,230.25 L361.38,229.86 L360.75,229.85 L360.12,230.07 L359.50,229.98 L358.88,230.19 L358.25,229.63 L357.62,230.02 L357.00,230.38 L356.38,230.13 L355.75,230.01 L355.12,229.66 L354.50,230.39 L353.88,229.95 L353.25,229.69 L352.62,229.85 L352.00,230.22 L351.38,229.80 L350.75,229.62 L350.12,229.77 L349.50,229.97 L348.88,230.19 L348.25,229.64 L347.62,229.75 L347.00,229.96 L346.38,230.13 L345.75,229.67 L345.12,229.93 L344.50,230.30 L343.88,230.00 L343.25,229.98 L342.62,229.66 L342.00,229.96 L341.38,230.20 L340.75,229.67 L340.12,229.63 L339.50,230.25 L338.88,230.11 L338.25,229.68 L337.62,229.85 L337.00,230.02 L336.38,229.82 L335.75,229.86 L335.12,229.95 L334.50,230.27 L333.88,229.80 L333.25,229.89 L332.62,230.01 L332.00,230.31 L331.38,230.22 L330.75,229.69 L330.12,229.72 L329.50,230.37 L328.88,229.99 L328.25,229.90 L327.62,229.93 L327.00,230.02 L326.38,229.83 L325.75,229.86 L325.12,230.07 L324.50,230.12 L323.88,230.05 L323.25,229.61 L322.62,229.71 L322.00,230.02 L321.38,230.18 L320.75,230.04 L320.12,230.00 L319.50,230.17 L318.88,230.20 L318.25,229.58 L317.62,229.87 L317.00,230.19 L316.38,230.16 L315.75,229.62 L315.12,230.11 L314.50,229.96 L313.88,229.97 L313.25,229.75 L312.62,229.70 L312.00,229.98 L311.38,230.01 L310.75,230.01 L310.12,229.90 L309.50,230.28 L308.88,229.81 L308.25,229.96 L307.62,229.74 L307.00,230.12 L306.38,230.07 L305.75,230.03 L305.12,229.71 L304.50,230.17 L303.88,229.94 L303.25,229.91 L302.62,230.04 L302.00,230.18 L301.38,230.18 L300.75,229.58 L300.12,230.02 L299.50,230.10 L298.88,229.77 L298.25,229.97 L297.62,229.91 L297.00,230.08 L296.38,229.98 L295.75,229.86 L295.12,230.10 L294.50,230.06 L293.88,230.12 L293.25,229.59 L292.62,229.90 L292.00,230.36 L291.38,229.96 L290.75,229.88 L290.12,229.80 L289.50,229.96 L288.88,229.99 L288.25,229.75 L287.62,229.86 L287.00,229.97 L286.38,229.92 L285.75,229.97 L285.12,229.62 L284.50,230.25 L283.88,229.90 L283.25,229.79 L282.62,229.93 L282.00,230.25 L281.38,230.13 L280.75,229.59 L280.12,229.98 L279.50,230.25 L278.88,229.83 L278.25,229.61 L277.62,229.67 L277.00,229.89 L276.38,229.85 L275.75,229.89 L275.12,229.82 L274.50,230.38 L273.88,230.07 L273.25,229.57 L272.62,230.07 L272.00,230.30 Z" fill="#EDB120"/>
<path d="M365.00,227.80 L372.00,228.40 L378.00,228.60 L385.00,228.00 L392.00,226.60 L399.00,225.00 L405.00,224.20 L409.00,224.00" fill="none" stroke="#EDB120" stroke-width="3.6" stroke-linejoin="round"/>
<path d="M406.00,221.70 L406.62,221.93 L407.25,221.97 L407.88,221.73 L408.50,221.58 L409.12,222.02 L409.75,222.00 L410.38,221.41 L411.00,221.51 L411.62,221.75 L412.25,221.56 L412.88,221.54 L413.50,221.39 L414.12,221.98 L414.75,221.72 L415.38,221.50 L416.00,221.36 L416.62,222.05 L417.25,221.82 L417.88,221.58 L418.50,221.81 L419.12,221.66 L419.75,221.69 L420.38,221.33 L421.00,221.68 L421.62,221.58 L422.25,221.85 L422.88,221.67 L423.50,221.77 L424.12,221.59 L424.75,221.81 L425.38,221.45 L426.00,221.53 L426.62,221.86 L427.25,221.64 L427.88,221.69 L428.50,221.74 L429.12,221.76 L429.75,221.98 L430.38,221.51 L431.00,221.72 L431.62,221.69 L432.25,221.78 L432.88,221.72 L433.50,221.74 L434.12,221.60 L434.75,222.04 L435.38,221.44 L436.00,221.65 L436.62,221.83 L437.25,221.78 L437.88,221.32 L438.50,221.82 L439.12,222.04 L439.75,221.97 L440.38,221.76 L441.00,221.65 L441.62,221.91 L442.25,221.83 L442.88,221.62 L443.50,221.59 L444.12,222.04 L444.75,221.71 L445.38,221.37 L446.00,221.81 L446.62,221.70 L447.25,221.83 L447.88,221.38 L448.50,221.48 L449.12,221.71 L449.75,221.61 L450.38,221.73 L451.00,221.62 L451.62,221.67 L452.25,221.79 L452.88,221.62 L453.50,221.49 L454.12,221.68 L454.75,221.75 L455.38,221.32 L456.00,221.76 L456.62,221.85 L457.25,221.70 L457.88,221.46 L458.50,221.41 L459.12,222.00 L459.75,221.59 L460.38,221.53 L461.00,221.39 L461.62,222.05 L462.25,221.64 L462.88,221.49 L463.50,221.64 L464.12,221.98 L464.75,221.93 L465.38,221.69 L466.00,221.72 L466.62,222.03 L467.25,222.00 L467.88,221.70 L468.50,221.58 L469.00,221.40 L469.00,226.80 L468.50,226.85 L467.88,226.68 L467.25,226.14 L466.62,226.19 L466.00,226.72 L465.38,226.62 L464.75,226.51 L464.12,226.39 L463.50,226.79 L462.88,226.72 L462.25,226.31 L461.62,226.50 L461.00,226.48 L460.38,226.75 L459.75,226.33 L459.12,226.35 L458.50,226.40 L457.88,226.77 L457.25,226.63 L456.62,226.38 L456.00,226.49 L455.38,226.56 L454.75,226.43 L454.12,226.39 L453.50,226.49 L452.88,226.62 L452.25,226.41 L451.62,226.49 L451.00,226.69 L450.38,226.69 L449.75,226.41 L449.12,226.25 L448.50,226.57 L447.88,226.45 L447.25,226.21 L446.62,226.36 L446.00,226.63 L445.38,226.68 L444.75,226.46 L444.12,226.27 L443.50,226.59 L442.88,226.51 L442.25,226.60 L441.62,226.27 L441.00,226.50 L440.38,226.40 L439.75,226.58 L439.12,226.45 L438.50,226.76 L437.88,226.46 L437.25,226.39 L436.62,226.17 L436.00,226.55 L435.38,226.60 L434.75,226.60 L434.12,226.39 L433.50,226.79 L432.88,226.84 L432.25,226.63 L431.62,226.30 L431.00,226.54 L430.38,226.86 L429.75,226.40 L429.12,226.34 L428.50,226.84 L427.88,226.47 L427.25,226.42 L426.62,226.56 L426.00,226.44 L425.38,226.45 L424.75,226.39 L424.12,226.19 L423.50,226.73 L422.88,226.44 L422.25,226.40 L421.62,226.43 L421.00,226.47 L420.38,226.43 L419.75,226.55 L419.12,226.18 L418.50,226.48 L417.88,226.40 L417.25,226.40 L416.62,226.38 L416.00,226.81 L415.38,226.76 L414.75,226.49 L414.12,226.56 L413.50,226.73 L412.88,226.64 L412.25,226.40 L411.62,226.43 L411.00,226.45 L410.38,226.80 L409.75,226.27 L409.12,226.37 L408.50,226.38 L407.88,226.82 L407.25,226.31 L406.62,226.16 L406.00,226.57 Z" fill="#EDB120"/>
<path d="M467.80,221.60 L472.60,221.60 L473.00,240.00 L473.60,243.00 L474.60,243.40 L475.00,254.00 L476.00,254.40 L477.00,257.00 L477.60,258.60 L477.60,264.60 L476.80,266.00 L476.40,272.60 L475.40,273.20 L474.60,276.00 L473.60,281.20 L472.20,281.60 L471.20,278.50 L470.20,272.00 L469.00,262.00 L468.20,250.00 L467.80,236.00 Z" fill="#EDB120"/>
<path d="M476.50,259.05 L477.12,259.38 L477.75,259.17 L478.38,259.03 L479.00,259.00 L479.62,259.26 L480.25,259.15 L480.88,259.19 L481.50,259.06 L482.12,259.15 L482.75,259.25 L483.38,258.88 L484.00,259.01 L484.62,259.37 L485.25,259.10 L485.88,259.21 L486.50,258.90 L487.12,259.23 L487.75,259.33 L488.38,259.25 L489.00,259.09 L489.62,259.19 L490.25,259.26 L490.88,259.23 L491.50,259.09 L492.12,259.18 L492.75,259.24 L493.38,259.20 L494.00,259.08 L494.62,259.28 L495.25,259.16 L495.88,259.18 L496.50,259.01 L497.12,259.36 L497.75,259.06 L498.38,259.12 L499.00,259.28 L499.62,259.20 L500.25,259.14 L500.88,259.05 L501.50,258.95 L502.12,259.27 L502.75,259.42 L503.38,258.87 L504.00,259.20 L504.62,259.31 L505.25,259.14 L505.88,259.08 L506.50,258.96 L507.12,259.25 L507.75,259.28 L508.38,259.25 L509.00,259.05 L509.62,259.10 L510.25,259.06 L510.88,258.92 L511.50,259.21 L512.12,259.36 L512.75,259.03 L513.38,258.98 L514.00,259.02 L514.62,259.14 L515.25,259.38 L515.88,258.99 L516.50,259.03 L517.12,259.39 L517.75,259.40 L518.38,259.10 L519.00,258.90 L519.62,259.38 L520.25,259.38 L520.88,258.97 L521.50,259.26 L522.12,259.41 L522.75,259.18 L523.38,258.94 L524.00,259.23 L524.62,259.35 L525.25,259.09 L525.88,258.92 L526.50,259.00 L527.12,259.08 L527.75,259.17 L528.38,258.87 L529.00,259.21 L529.62,259.13 L530.25,259.13 L530.88,258.86 L531.50,259.02 L532.12,259.32 L532.75,259.13 L533.38,258.90 L534.00,259.22 L534.62,259.10 L535.25,259.31 L535.88,259.23 L536.50,259.26 L537.12,259.12 L537.75,259.07 L538.38,258.95 L539.00,259.12 L539.62,259.13 L540.25,259.11 L540.88,258.90 L541.50,259.10 L542.12,259.34 L542.75,259.28 L543.38,258.97 L544.00,258.91 L544.62,259.37 L545.25,259.29 L545.88,259.07 L546.50,259.08 L547.12,259.06 L547.75,259.11 L548.38,259.14 L549.00,259.04 L549.62,259.34 L550.25,259.36 L550.88,258.96 L551.50,259.15 L552.12,259.17 L552.75,259.28 L553.38,258.95 L554.00,259.02 L554.62,259.11 L555.25,259.39 L555.88,259.13 L556.50,258.90 L557.12,259.11 L557.75,259.17 L558.38,258.97 L559.00,258.95 L559.62,259.26 L560.25,259.12 L560.88,259.12 L561.50,258.88 L562.12,259.34 L562.75,259.04 L563.38,259.09 L564.00,258.98 L564.62,259.35 L565.25,259.39 L565.88,258.88 L566.50,259.04 L567.12,259.36 L567.75,259.06 L568.38,259.02 L569.00,259.16 L569.62,259.37 L570.25,259.20 L570.88,259.13 L571.50,259.09 L572.12,259.08 L572.75,259.04 L573.38,259.17 L574.00,259.10 L574.62,259.29 L575.25,259.12 L575.88,258.99 L576.50,258.96 L577.12,259.09 L577.75,259.29 L578.38,258.95 L579.00,259.06 L579.62,259.17 L580.25,259.37 L580.88,259.07 L581.50,259.21 L582.12,259.34 L582.75,259.29 L583.38,259.03 L584.00,259.21 L584.62,259.15 L585.25,259.10 L585.88,258.96 L586.50,259.16 L587.12,259.08 L587.75,259.21 L588.38,258.92 L589.00,258.88 L589.62,259.33 L590.25,259.31 L590.88,259.07 L591.50,259.08 L592.12,259.11 L592.75,259.02 L593.38,259.11 L594.00,259.25 L594.62,259.13 L595.25,259.08 L595.88,259.16 L596.50,259.00 L597.12,259.29 L597.75,259.39 L598.38,259.16 L599.00,259.18 L599.62,259.11 L600.25,259.15 L600.88,259.07 L601.50,259.21 L602.12,259.05 L602.75,259.27 L603.38,259.13 L604.00,259.26 L604.62,259.23 L605.25,259.14 L605.88,258.88 L606.50,258.95 L607.12,259.42 L607.75,259.04 L608.38,258.92 L609.00,258.88 L609.62,259.38 L610.25,259.19 L610.88,259.11 L611.50,259.05 L612.12,259.21 L612.75,259.35 L613.38,258.91 L614.00,259.06 L614.62,259.17 L615.25,259.05 L615.88,259.03 L616.50,259.24 L617.12,259.42 L617.75,259.27 L618.38,258.87 L619.00,259.12 L619.62,259.26 L620.25,259.21 L620.88,258.97 L621.50,259.23 L622.12,259.11 L622.75,259.20 L623.38,259.11 L624.00,259.11 L624.62,259.25 L625.25,259.18 L625.88,258.92 L626.50,259.10 L627.12,259.38 L627.75,259.06 L628.38,258.95 L629.00,259.10 L629.62,259.26 L630.25,259.23 L630.88,258.88 L631.50,258.91 L632.12,259.38 L632.75,259.31 L633.38,258.89 L634.00,259.17 L634.62,259.37 L635.25,259.09 L635.88,259.07 L636.50,258.94 L637.12,259.06 L637.75,259.17 L638.38,259.09 L639.00,259.00 L639.62,259.20 L640.25,259.27 L640.88,259.07 L641.50,259.23 L642.12,259.33 L642.75,259.33 L643.38,259.18 L644.00,259.03 L644.62,259.41 L645.25,259.04 L645.88,258.89 L646.50,259.20 L647.12,259.40 L647.75,259.12 L648.38,259.03 L649.00,259.11 L649.62,259.04 L650.25,259.34 L650.88,259.07 L651.50,259.16 L652.12,259.09 L652.75,259.24 L653.38,259.17 L654.00,258.89 L654.62,259.09 L655.25,259.37 L655.88,258.86 L656.50,259.21 L657.12,259.19 L657.75,259.08 L658.38,259.01 L659.00,259.12 L659.62,259.17 L660.25,259.38 L660.88,258.87 L661.50,259.02 L662.12,259.26 L662.75,259.16 L663.38,259.08 L664.00,258.89 L664.62,259.43 L665.25,259.08 L665.88,258.96 L666.50,259.08 L667.12,259.26 L667.75,259.40 L668.38,258.86 L669.00,259.19 L669.62,259.34 L670.25,259.27 L670.88,258.96 L671.50,259.23 L672.12,259.31 L672.75,259.33 L673.38,259.05 L674.00,259.02 L674.62,259.20 L674.70,258.95 L674.70,264.45 L674.62,263.99 L674.00,264.34 L673.38,264.41 L672.75,264.28 L672.12,264.09 L671.50,264.49 L670.88,264.47 L670.25,264.13 L669.62,264.22 L669.00,264.47 L668.38,264.38 L667.75,264.38 L667.12,264.18 L666.50,264.22 L665.88,264.26 L665.25,264.25 L664.62,263.98 L664.00,264.30 L663.38,264.28 L662.75,263.98 L662.12,264.12 L661.50,264.31 L660.88,264.22 L660.25,264.22 L659.62,264.05 L659.00,264.15 L658.38,264.50 L657.75,264.32 L657.12,264.16 L656.50,264.39 L655.88,264.22 L655.25,264.30 L654.62,264.17 L654.00,264.26 L653.38,264.53 L652.75,264.26 L652.12,264.32 L651.50,264.27 L650.88,264.27 L650.25,264.05 L649.62,264.01 L649.00,264.16 L648.38,264.49 L647.75,264.06 L647.12,264.24 L646.50,264.16 L645.88,264.37 L645.25,264.22 L644.62,264.26 L644.00,264.41 L643.38,264.20 L642.75,264.25 L642.12,264.10 L641.50,264.19 L640.88,264.52 L640.25,264.33 L639.62,264.32 L639.00,264.40 L638.38,264.24 L637.75,263.99 L637.12,264.06 L636.50,264.43 L635.88,264.46 L635.25,264.36 L634.62,264.12 L634.00,264.16 L633.38,264.55 L632.75,264.28 L632.12,264.19 L631.50,264.30 L630.88,264.31 L630.25,264.22 L629.62,264.01 L629.00,264.21 L628.38,264.35 L627.75,264.19 L627.12,264.07 L626.50,264.16 L625.88,264.51 L625.25,264.03 L624.62,264.19 L624.00,264.29 L623.38,264.30 L622.75,264.01 L622.12,264.24 L621.50,264.13 L620.88,264.29 L620.25,264.24 L619.62,264.35 L619.00,264.24 L618.38,264.42 L617.75,264.30 L617.12,264.35 L616.50,264.47 L615.88,264.54 L615.25,264.11 L614.62,264.04 L614.00,264.34 L613.38,264.27 L612.75,264.34 L612.12,264.23 L611.50,264.25 L610.88,264.36 L610.25,264.09 L609.62,264.28 L609.00,264.46 L608.38,264.44 L607.75,264.16 L607.12,264.00 L606.50,264.30 L605.88,264.43 L605.25,264.21 L604.62,264.03 L604.00,264.32 L603.38,264.51 L602.75,264.31 L602.12,264.19 L601.50,264.22 L600.88,264.30 L600.25,264.13 L599.62,264.30 L599.00,264.25 L598.38,264.48 L597.75,264.05 L597.12,264.30 L596.50,264.19 L595.88,264.49 L595.25,263.99 L594.62,264.07 L594.00,264.38 L593.38,264.40 L592.75,264.35 L592.12,264.18 L591.50,264.29 L590.88,264.19 L590.25,264.37 L589.62,264.00 L589.00,264.52 L588.38,264.18 L587.75,264.13 L587.12,264.10 L586.50,264.30 L585.88,264.23 L585.25,264.00 L584.62,264.11 L584.00,264.17 L583.38,264.46 L582.75,264.22 L582.12,264.03 L581.50,264.34 L580.88,264.28 L580.25,264.04 L579.62,264.09 L579.00,264.49 L578.38,264.36 L577.75,264.08 L577.12,264.25 L576.50,264.24 L575.88,264.32 L575.25,264.00 L574.62,264.18 L574.00,264.51 L573.38,264.26 L572.75,264.26 L572.12,264.27 L571.50,264.49 L570.88,264.32 L570.25,264.00 L569.62,264.22 L569.00,264.41 L568.38,264.52 L567.75,264.36 L567.12,264.08 L566.50,264.42 L565.88,264.43 L565.25,264.28 L564.62,264.05 L564.00,264.16 L563.38,264.17 L562.75,264.32 L562.12,264.08 L561.50,264.45 L560.88,264.29 L560.25,264.15 L559.62,264.25 L559.00,264.46 L558.38,264.41 L557.75,264.00 L557.12,264.09 L556.50,264.18 L555.88,264.17 L555.25,264.27 L554.62,264.01 L554.00,264.37 L553.38,264.49 L552.75,264.26 L552.12,264.13 L551.50,264.38 L550.88,264.16 L550.25,264.03 L549.62,264.32 L549.00,264.48 L548.38,264.26 L547.75,264.03 L547.12,264.09 L546.50,264.24 L545.88,264.30 L545.25,264.02 L544.62,264.10 L544.00,264.19 L543.38,264.31 L542.75,264.21 L542.12,264.12 L541.50,264.23 L540.88,264.36 L540.25,264.33 L539.62,264.21 L539.00,264.27 L538.38,264.51 L537.75,264.26 L537.12,264.15 L536.50,264.32 L535.88,264.23 L535.25,264.13 L534.62,264.11 L534.00,264.44 L533.38,264.33 L532.75,264.31 L532.12,264.00 L531.50,264.18 L530.88,264.42 L530.25,264.07 L529.62,264.04 L529.00,264.26 L528.38,264.20 L527.75,264.14 L527.12,264.18 L526.50,264.34 L525.88,264.54 L525.25,264.12 L524.62,264.06 L524.00,264.31 L523.38,264.28 L522.75,264.27 L522.12,264.06 L521.50,264.32 L520.88,264.39 L520.25,264.31 L519.62,264.09 L519.00,264.49 L518.38,264.25 L517.75,264.16 L517.12,264.20 L516.50,264.14 L515.88,264.33 L515.25,264.21 L514.62,264.01 L514.00,264.19 L513.38,264.44 L512.75,264.29 L512.12,263.99 L511.50,264.36 L510.88,264.36 L510.25,264.02 L509.62,264.27 L509.00,264.17 L508.38,264.38 L507.75,264.19 L507.12,264.07 L506.50,264.32 L505.88,264.42 L505.25,264.32 L504.62,263.97 L504.00,264.24 L503.38,264.32 L502.75,264.23 L502.12,264.11 L501.50,264.37 L500.88,264.23 L500.25,264.18 L499.62,264.03 L499.00,264.47 L498.38,264.48 L497.75,264.34 L497.12,264.17 L496.50,264.51 L495.88,264.22 L495.25,264.19 L494.62,264.37 L494.00,264.30 L493.38,264.54 L492.75,264.21 L492.12,264.13 L491.50,264.16 L490.88,264.42 L490.25,264.12 L489.62,264.11 L489.00,264.39 L488.38,264.36 L487.75,264.20 L487.12,264.33 L486.50,264.35 L485.88,264.16 L485.25,264.15 L484.62,264.35 L484.00,264.46 L483.38,264.52 L482.75,264.21 L482.12,264.02 L481.50,264.19 L480.88,264.35 L480.25,264.29 L479.62,264.12 L479.00,264.28 L478.38,264.44 L477.75,264.16 L477.12,264.21 L476.50,264.43 Z" fill="#EDB120"/>
<path d="M59.50,7.98 L239.70,196.20 L242.60,194.80 L245.00,195.80 L247.60,194.20 L251.60,190.60 L266.80,190.60 L288.40,212.00 L291.60,212.00 L296.80,217.60 L471.60,217.80 L513.80,260.40 L673.00,260.40" fill="none" stroke="#7E2F8E" stroke-width="3.5" stroke-linejoin="round" stroke-linecap="round"/>
<path d="M264.2,189.4 L264.6,187.3 L266.2,187.4 L266.8,189.4 Z" fill="#EDB120"/>
<ellipse cx="343.2" cy="218.8" rx="23.8" ry="31.6" fill="none" stroke="#000" stroke-width="1.1"/>
<line x1="343.2" y1="187.2" x2="343.2" y2="153" stroke="#000" stroke-width="1.2"/>
<path d="M343.2,137 L350.3,156.3 L343.2,152.4 L336.1,156.3 Z" fill="#000"/>
<rect x="305.9" y="41.9" width="125.70" height="94.60" fill="#fff" stroke="none"/>
<path d="M304.40,58.69 L305.60,58.68 L306.80,59.14 L308.00,58.79 L309.20,58.70 L310.40,58.62 L311.60,58.61 L312.80,58.69 L314.00,58.54 L315.20,58.45 L316.40,59.05 L317.60,58.76 L318.80,58.75 L320.00,58.83 L321.20,58.64 L322.40,58.55 L323.60,58.47 L324.80,58.63 L326.00,58.63 L327.20,58.92 L328.40,58.79 L329.60,59.05 L330.80,58.63 L332.00,59.02 L333.20,58.78 L334.40,58.41 L335.60,58.47 L336.80,58.74 L338.00,59.01 L339.20,58.55 L340.40,58.82 L341.60,58.56 L342.80,58.85 L344.00,58.27 L345.20,58.54 L346.40,58.81 L347.60,58.35 L348.80,58.31 L350.00,58.12 L351.20,58.20 L352.40,58.24 L353.60,58.53 L354.80,58.16 L356.00,58.27 L357.20,58.10 L358.40,58.37 L359.60,58.53 L360.80,58.36 L362.00,58.03 L363.20,58.39 L364.40,58.54 L365.60,58.28 L366.80,57.91 L368.00,58.42 L369.20,58.46 L370.40,58.09 L371.60,57.95 L372.80,58.00 L374.00,58.25 L375.20,58.50 L376.40,58.35 L377.60,58.57 L378.80,58.09 L380.00,58.19 L381.20,58.51 L382.40,58.46 L383.60,58.31 L384.80,58.53 L386.00,58.32 L387.20,58.15 L388.40,58.44 L389.60,58.22 L390.80,58.68 L392.00,58.55 L393.20,58.76 L394.40,58.96 L395.60,58.88 L396.80,59.21 L398.00,59.11 L399.20,59.97 L400.40,59.92 L401.60,60.39 L402.80,59.86 L404.00,60.80 L405.20,60.84 L406.40,60.47 L407.60,60.15 L408.80,60.00 L410.00,59.80 L411.20,60.05 L412.40,59.41 L413.60,59.79 L414.80,59.41 L416.00,59.43 L417.20,59.42 L418.40,59.36 L419.60,59.42 L420.80,59.37 L422.00,59.18 L423.20,59.47 L424.40,59.13 L425.60,59.44 L426.80,59.48 L428.00,59.49 L429.20,59.16 L430.40,59.49 L431.60,59.63" fill="none" stroke="#0072BD" stroke-width="3.5" stroke-linejoin="round"/>
<path d="M304.40,95.81 L305.10,94.93 L305.80,94.45 L306.50,94.50 L307.20,95.05 L307.90,95.96 L308.60,96.98 L309.30,97.84 L310.00,98.31 L310.70,98.26 L311.40,97.72 L312.10,96.83 L312.80,95.83 L313.50,94.99 L314.20,94.53 L314.90,94.58 L315.60,95.11 L316.30,95.98 L317.00,96.96 L317.70,97.78 L318.40,98.23 L319.10,98.18 L319.80,97.66 L320.50,96.81 L321.20,95.86 L321.90,95.05 L322.60,94.62 L323.30,94.66 L324.00,95.17 L324.70,96.00 L325.40,96.93 L326.10,97.72 L326.80,98.14 L327.50,98.10 L328.20,97.60 L328.90,96.79 L329.60,95.88 L330.30,95.12 L331.00,94.70 L331.70,94.74 L332.40,95.23 L333.10,96.02 L333.80,96.91 L334.50,97.65 L335.20,98.06 L335.90,98.02 L336.60,97.55 L337.30,96.77 L338.00,95.91 L338.70,95.18 L339.40,94.78 L340.10,94.82 L340.80,95.28 L341.50,96.04 L342.20,96.88 L342.90,97.59 L343.60,97.97 L344.30,97.94 L345.00,97.49 L345.70,96.75 L346.40,95.93 L347.10,95.24 L347.80,94.87 L348.50,94.91 L349.20,95.34 L349.90,96.06 L350.60,96.86 L351.30,97.53 L352.00,97.89 L352.70,97.85 L353.40,97.43 L354.10,96.73 L354.80,95.96 L355.50,95.30 L356.20,94.95 L356.90,94.99 L357.60,95.40 L358.30,96.08 L359.00,96.83 L359.70,97.46 L360.40,97.81 L361.10,97.77 L361.80,97.37 L362.50,96.72 L363.20,95.98 L363.90,95.37 L364.60,95.04 L365.30,95.07 L366.00,95.46 L366.70,96.09 L367.40,96.81 L368.10,97.40 L368.80,97.72 L369.50,97.69 L370.20,97.31 L370.90,96.70 L371.60,96.01 L372.30,95.43 L373.00,95.12 L373.70,95.15 L374.40,95.52 L375.10,96.11 L375.80,96.78 L376.50,97.34 L377.20,97.64 L377.90,97.61 L378.60,97.25 L379.30,96.68 L380.00,96.03 L380.70,95.49 L381.40,95.21 L382.10,95.26 L382.80,95.62 L383.50,96.20 L384.20,96.85 L384.90,97.39 L385.60,97.69 L386.30,97.68 L387.00,97.38 L387.70,96.86 L388.40,96.28 L389.10,95.80 L389.80,95.56 L390.50,95.61 L391.20,95.95 L391.90,96.49 L392.60,97.09 L393.30,97.59 L394.00,97.86 L394.70,97.97 L395.40,97.96 L396.10,97.82 L396.80,97.57 L397.50,97.24 L398.20,96.88 L398.90,96.52 L399.60,96.22 L400.30,96.00 L401.00,95.89 L401.70,95.92 L402.40,96.07 L403.10,96.33 L403.80,96.68 L404.50,97.08 L405.20,97.49 L405.90,97.86 L406.60,98.15 L407.30,98.34 L408.00,98.40 L408.70,98.32 L409.40,98.13 L410.10,97.85 L410.80,97.50 L411.50,97.14 L412.20,96.80 L412.90,96.52 L413.60,96.35 L414.30,96.30 L415.00,96.38 L415.70,96.58 L416.40,96.89 L417.10,97.27 L417.80,97.67 L418.50,98.07 L419.20,98.41 L419.90,98.66 L420.60,98.79 L421.30,98.79 L422.00,98.67 L422.70,98.44 L423.40,98.12 L424.10,97.76 L424.80,97.40 L425.50,97.08 L426.20,96.85 L426.90,96.73 L427.60,96.73 L428.30,96.87 L429.00,97.12 L429.70,97.46 L430.40,97.85 L431.10,98.26" fill="none" stroke="#EDB120" stroke-width="3.4" stroke-linejoin="round"/>
<path d="M304.40,95.01 L305.10,94.13 L305.80,93.65 L306.50,93.70 L307.20,94.25 L307.90,95.16 L308.60,96.18 L309.30,97.04 L310.00,97.51 L310.70,97.46 L311.40,96.92 L312.10,96.03 L312.80,95.03 L313.50,94.19 L314.20,93.73 L314.90,93.78 L315.60,94.31 L316.30,95.18 L317.00,96.16 L317.70,96.98 L318.40,97.43 L319.10,97.38 L319.80,96.86 L320.50,96.01 L321.20,95.06 L321.90,94.25 L322.60,93.82 L323.30,93.86 L324.00,94.37 L324.70,95.20 L325.40,96.13 L326.10,96.92 L326.80,97.34 L327.50,97.30 L328.20,96.80 L328.90,95.99 L329.60,95.08 L330.30,94.32 L331.00,93.90 L331.70,93.94 L332.40,94.43 L333.10,95.22 L333.80,96.11 L334.50,96.85 L335.20,97.26 L335.90,97.22 L336.60,96.75 L337.30,95.97 L338.00,95.11 L338.70,94.38 L339.40,93.98 L340.10,94.02 L340.80,94.48 L341.50,95.24 L342.20,96.08 L342.90,96.79 L343.60,97.17 L344.30,97.14 L345.00,96.69 L345.70,95.95 L346.40,95.13 L347.10,94.44 L347.80,94.07 L348.50,94.11 L349.20,94.54 L349.90,95.26 L350.60,96.06 L351.30,96.73 L352.00,97.09 L352.70,97.05 L353.40,96.63 L354.10,95.93 L354.80,95.16 L355.50,94.50 L356.20,94.15 L356.90,94.19 L357.60,94.60 L358.30,95.28 L359.00,96.03 L359.70,96.66 L360.40,97.01 L361.10,96.97 L361.80,96.57 L362.50,95.92 L363.20,95.18 L363.90,94.57 L364.60,94.24 L365.30,94.27 L366.00,94.66 L366.70,95.29 L367.40,96.01 L368.10,96.60 L368.80,96.92 L369.50,96.89 L370.20,96.51 L370.90,95.90 L371.60,95.21 L372.30,94.63 L373.00,94.32 L373.70,94.35 L374.40,94.72 L375.10,95.31 L375.80,95.98 L376.50,96.54 L377.20,96.84 L377.90,96.81 L378.60,96.45 L379.30,95.88 L380.00,95.23 L380.70,94.69 L381.40,94.41 L382.10,94.46 L382.80,94.82 L383.50,95.40 L384.20,96.05 L384.90,96.59 L385.60,96.89 L386.30,96.88 L387.00,96.58 L387.70,96.06 L388.40,95.48 L389.10,95.00 L389.80,94.76 L390.50,94.81 L391.20,95.15 L391.90,95.69 L392.60,96.29 L393.30,96.79 L394.00,97.06 L394.70,97.17 L395.40,97.16 L396.10,97.02 L396.80,96.77 L397.50,96.44 L398.20,96.08 L398.90,95.72 L399.60,95.42 L400.30,95.20 L401.00,95.09 L401.70,95.12 L402.40,95.27 L403.10,95.53 L403.80,95.88 L404.50,96.28 L405.20,96.69 L405.90,97.06 L406.60,97.35 L407.30,97.54 L408.00,97.60 L408.70,97.52 L409.40,97.33 L410.10,97.05 L410.80,96.70 L411.50,96.34 L412.20,96.00 L412.90,95.72 L413.60,95.55 L414.30,95.50 L415.00,95.58 L415.70,95.78 L416.40,96.09 L417.10,96.47 L417.80,96.87 L418.50,97.27 L419.20,97.61 L419.90,97.86 L420.60,97.99 L421.30,97.99 L422.00,97.87 L422.70,97.64 L423.40,97.32 L424.10,96.96 L424.80,96.60 L425.50,96.28 L426.20,96.05 L426.90,95.93 L427.60,95.93 L428.30,96.07 L429.00,96.32 L429.70,96.66 L430.40,97.05 L431.10,97.46" fill="none" stroke="#D95319" stroke-width="3.4" stroke-linejoin="round"/>
<path d="M304.40,77.65 L305.10,77.55 L305.80,78.10 L306.50,78.75 L307.20,78.85 L307.90,78.30 L308.60,77.65 L309.30,77.55 L310.00,78.10 L310.70,78.75 L311.40,78.85 L312.10,78.30 L312.80,77.65 L313.50,77.55 L314.20,78.10 L314.90,78.75 L315.60,78.85 L316.30,78.30 L317.00,77.65 L317.70,77.55 L318.40,78.10 L319.10,78.75 L319.80,78.85 L320.50,78.30 L321.20,77.65 L321.90,77.55 L322.60,78.10 L323.30,78.75 L324.00,78.85 L324.70,78.30 L325.40,77.65 L326.10,77.55 L326.80,78.10 L327.50,78.75 L328.20,78.85 L328.90,78.30 L329.60,77.65 L330.30,77.55 L331.00,78.10 L331.70,78.75 L332.40,78.85 L333.10,78.30 L333.80,77.65 L334.50,77.55 L335.20,78.10 L335.90,78.75 L336.60,78.85 L337.30,78.30 L338.00,77.65 L338.70,77.55 L339.40,78.10 L340.10,78.75 L340.80,78.85 L341.50,78.30 L342.20,77.65 L342.90,77.55 L343.60,78.10 L344.30,78.75 L345.00,78.85 L345.70,78.30 L346.40,77.65 L347.10,77.55 L347.80,78.10 L348.50,78.75 L349.20,78.85 L349.90,78.30 L350.60,77.65 L351.30,77.55 L352.00,78.10 L352.70,78.75 L353.40,78.85 L354.10,78.30 L354.80,77.65 L355.50,77.55 L356.20,78.10 L356.90,78.75 L357.60,78.85 L358.30,78.30 L359.00,77.65 L359.70,77.55 L360.40,78.10 L361.10,78.75 L361.80,78.85 L362.50,78.30 L363.20,77.65 L363.90,77.55 L364.60,78.10 L365.30,78.75 L366.00,78.85 L366.70,78.30 L367.40,77.65 L368.10,77.55 L368.80,78.10 L369.50,78.75 L370.20,78.85 L370.90,78.30 L371.60,77.65 L372.30,77.55 L373.00,78.10 L373.70,78.75 L374.40,78.85 L375.10,78.30 L375.80,77.65 L376.50,77.55 L377.20,78.10 L377.90,78.75 L378.60,78.85 L379.30,78.30 L380.00,77.65 L380.70,77.55 L381.40,78.10 L382.10,78.75 L382.80,78.85 L383.50,78.30 L384.20,77.65 L384.90,77.55 L385.60,78.10 L386.30,78.75 L387.00,78.85 L387.70,78.30 L388.40,77.65 L389.10,77.55 L389.80,78.10 L390.50,78.75 L391.20,78.85 L391.90,78.30 L392.60,77.65 L393.30,77.55 L394.00,78.10 L394.70,78.75 L395.40,78.85 L396.10,78.30 L396.80,77.65 L397.50,77.55 L398.20,78.10 L398.90,78.75 L399.60,78.85 L400.30,78.30 L401.00,77.65 L401.70,77.55 L402.40,78.10 L403.10,78.75 L403.80,78.85 L404.50,78.30 L405.20,77.65 L405.90,77.55 L406.60,78.10 L407.30,78.75 L408.00,78.85 L408.70,78.30 L409.40,77.65 L410.10,77.55 L410.80,78.10 L411.50,78.75 L412.20,78.85 L412.90,78.30 L413.60,77.65 L414.30,77.55 L415.00,78.10 L415.70,78.75 L416.40,78.85 L417.10,78.30 L417.80,77.65 L418.50,77.55 L419.20,78.10 L419.90,78.75 L420.60,78.85 L421.30,78.30 L422.00,77.65 L422.70,77.55 L423.40,78.10 L424.10,78.75 L424.80,78.85 L425.50,78.30 L426.20,77.65 L426.90,77.55 L427.60,78.10 L428.30,78.75 L429.00,78.85 L429.70,78.30 L430.40,77.65 L431.10,77.55" fill="none" stroke="#7E2F8E" stroke-width="3.3" stroke-linejoin="round"/>
<rect x="305.9" y="41.9" width="125.70" height="94.60" fill="none" stroke="#222" stroke-width="1.6"/>
<line x1="305.9" y1="41.9" x2="305.9" y2="39.1" stroke="#222" stroke-width="1.4"/>
<line x1="368.75" y1="136.5" x2="368.75" y2="134.0" stroke="#000" stroke-width="1.2"/>
<line x1="305.9" y1="41.90" x2="307.9" y2="41.90" stroke="#000" stroke-width="1.2"/>
<line x1="305.9" y1="89.20" x2="307.9" y2="89.20" stroke="#000" stroke-width="1.2"/>
<line x1="305.9" y1="136.50" x2="307.9" y2="136.50" stroke="#000" stroke-width="1.2"/>
<text transform="translate(305.30,155.60) scale(1,1.12)" font-size="15.1" text-anchor="middle" stroke="#000" stroke-width="0.2">0.5</text>
<text transform="translate(367.20,155.60) scale(1,1.12)" font-size="15.1" text-anchor="middle" stroke="#000" stroke-width="0.2">0.55</text>
<text transform="translate(430.20,155.60) scale(1,1.12)" font-size="15.1" text-anchor="middle" stroke="#000" stroke-width="0.2">0.6</text>
<text transform="translate(301.40,46.10) scale(1,1.12)" font-size="15.1" text-anchor="end" stroke="#000" stroke-width="0.2">0.55</text>
<text transform="translate(301.40,93.40) scale(1,1.12)" font-size="15.1" text-anchor="end" stroke="#000" stroke-width="0.2">0.5</text>
<text transform="translate(301.40,140.70) scale(1,1.12)" font-size="15.1" text-anchor="end" stroke="#000" stroke-width="0.2">0.45</text>
<rect x="525.5" y="10.4" width="146.5" height="93.8" fill="#fff" stroke="#262626" stroke-width="1"/>
<line x1="531.1" y1="24.30" x2="587.7" y2="24.30" stroke="#0072BD" stroke-width="3.1"/>
<text transform="translate(592.60,31.00) scale(1,1.02)" font-size="16.9" text-anchor="start" stroke="#000" stroke-width="0.25">Proposed</text>
<line x1="531.1" y1="46.57" x2="587.7" y2="46.57" stroke="#D95319" stroke-width="3.1"/>
<text transform="translate(592.60,53.27) scale(1,1.02)" font-size="16.9" text-anchor="start" stroke="#000" stroke-width="0.25">NN</text>
<line x1="531.1" y1="68.84" x2="587.7" y2="68.84" stroke="#EDB120" stroke-width="3.1"/>
<text transform="translate(592.60,75.54) scale(1,1.02)" font-size="16.9" text-anchor="start" stroke="#000" stroke-width="0.25">ANFIS</text>
<line x1="531.1" y1="91.11" x2="587.7" y2="91.11" stroke="#7E2F8E" stroke-width="3.1"/>
<text transform="translate(592.60,97.81) scale(1,1.02)" font-size="16.9" text-anchor="start" stroke="#000" stroke-width="0.25">PO</text>
<text transform="translate(58.80,519.70) scale(1,1.1)" font-size="18.8" text-anchor="middle" stroke="#000" stroke-width="0.25">0</text>
<text transform="translate(161.80,519.70) scale(1,1.1)" font-size="18.8" text-anchor="middle" stroke="#000" stroke-width="0.25">0.2</text>
<text transform="translate(264.10,519.70) scale(1,1.1)" font-size="18.8" text-anchor="middle" stroke="#000" stroke-width="0.25">0.4</text>
<text transform="translate(366.40,519.70) scale(1,1.1)" font-size="18.8" text-anchor="middle" stroke="#000" stroke-width="0.25">0.6</text>
<text transform="translate(468.70,519.70) scale(1,1.1)" font-size="18.8" text-anchor="middle" stroke="#000" stroke-width="0.25">0.8</text>
<text transform="translate(571.00,519.70) scale(1,1.1)" font-size="18.8" text-anchor="middle" stroke="#000" stroke-width="0.25">1</text>
<text transform="translate(673.30,519.70) scale(1,1.1)" font-size="18.8" text-anchor="middle" stroke="#000" stroke-width="0.25">1.2</text>
<text transform="translate(50.90,499.80) scale(1,1.1)" font-size="18.8" text-anchor="end" stroke="#000" stroke-width="0.25">0</text>
<text transform="translate(51.70,446.02) scale(1,1.1)" font-size="18.8" text-anchor="end" stroke="#000" stroke-width="0.25">0.1</text>
<text transform="translate(51.70,392.24) scale(1,1.1)" font-size="18.8" text-anchor="end" stroke="#000" stroke-width="0.25">0.2</text>
<text transform="translate(51.70,338.46) scale(1,1.1)" font-size="18.8" text-anchor="end" stroke="#000" stroke-width="0.25">0.3</text>
<text transform="translate(51.70,284.68) scale(1,1.1)" font-size="18.8" text-anchor="end" stroke="#000" stroke-width="0.25">0.4</text>
<text transform="translate(51.70,230.90) scale(1,1.1)" font-size="18.8" text-anchor="end" stroke="#000" stroke-width="0.25">0.5</text>
<text transform="translate(51.70,177.12) scale(1,1.1)" font-size="18.8" text-anchor="end" stroke="#000" stroke-width="0.25">0.6</text>
<text transform="translate(51.70,123.34) scale(1,1.1)" font-size="18.8" text-anchor="end" stroke="#000" stroke-width="0.25">0.7</text>
<text transform="translate(51.70,69.56) scale(1,1.1)" font-size="18.8" text-anchor="end" stroke="#000" stroke-width="0.25">0.8</text>
<text transform="translate(51.70,15.78) scale(1,1.1)" font-size="18.8" text-anchor="end" stroke="#000" stroke-width="0.25">0.9</text>
<text transform="translate(366.20,547.00) scale(1,1.04)" font-size="20.9" text-anchor="middle" stroke="#000" stroke-width="0.25">Time (sec)</text>
<text transform="translate(14.80,249.60) rotate(-90) scale(1,0.96)" font-size="20.7" text-anchor="middle" stroke="#000" stroke-width="0.25">Duty Ratio (D)</text>
</svg>
</body></html>
